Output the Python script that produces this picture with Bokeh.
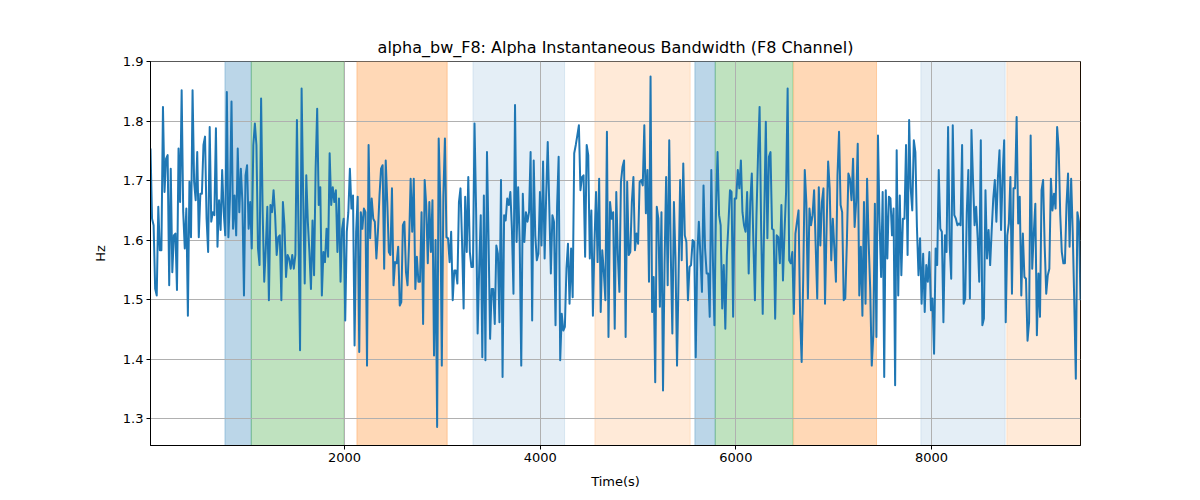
import numpy as np
from bokeh.plotting import figure
from bokeh.models import Range1d, FixedTicker, BoxAnnotation, ColumnDataSource
from bokeh.embed import file_html
from bokeh.resources import INLINE

TITLE = "alpha_bw_F8: Alpha Instantaneous Bandwidth (F8 Channel)"
X_LABEL = "Time(s)"
Y_LABEL = "Hz"
T_START = 16.0
T_END = 9523.0

SEG1 = [1.754,1.636,1.625,1.518,1.507,1.656,1.583,1.583,1.824,1.681,1.737,1.743,1.524,1.720,1.546,1.608,1.611,1.516,1.754,1.664,
        1.852,1.647,1.586,1.653,1.473,1.698,1.605,1.852,1.698,1.667,1.748,1.605,1.678,1.678,1.760,1.774,1.636,1.580,1.790,1.631,
        1.647,1.642,1.788,1.589,1.667,1.617,1.718,1.647,1.608,1.849,1.605,1.670,1.833,1.619,1.675,1.608,1.754,1.647,1.720,1.664,
        1.507,1.709,1.726,1.619,1.664,1.586,1.760,1.796,1.760,1.586,1.558,1.838,1.647,1.530,1.586,1.656,1.499,1.659,1.647,1.684,
        1.642,1.575,1.605,1.608,1.499,1.664,1.625,1.538,1.575,1.569,1.552,1.575,1.552,1.575]
SEG2 = [1.802,1.614,1.415,1.855,1.675,1.527,1.709,1.631,1.580,1.518,
        1.633,1.541,1.720,1.821,1.659,1.689,1.507,1.580,1.563,1.619,
        1.572,1.746,1.659,1.689,1.664,1.684,1.580,1.670,1.530,1.619,
        1.636,1.465,1.614,1.647,1.720,1.653,1.675,1.423,1.614,1.673,
        1.412,1.647,1.619,1.653,1.647,1.389,1.760,1.603,1.670,1.636,
        1.631,1.569,1.614,1.675,1.720,1.726,1.552,1.734,1.664,1.580,
        1.575,1.687,1.524,1.563,1.561,1.589,1.490,1.496,1.625,1.631,
        1.546,1.524,1.597,1.703,1.614,1.703,1.518,1.572,1.530,1.530,
        1.647,1.459,1.701,1.659,1.561,1.664,1.580,1.667,1.406,1.600,
        1.286,1.771,1.670,1.389,1.675,1.771,1.605,1.603]
SEG3 = [1.563,1.614,1.499,1.549,1.549,1.527,1.664,1.687,1.597,1.485,
        1.673,1.580,1.706,1.580,1.555,1.555,1.796,1.653,1.443,1.552,
        1.642,1.403,1.675,1.398,1.748,1.603,1.434,1.518,1.518,1.459,
        1.591,1.577,1.462,1.701,1.370,1.642,1.633,1.670,1.659,1.681,
        1.619,1.510,1.827,1.597,1.689,1.597,1.389,1.678,1.597,1.647,
        1.631,1.647,1.748,1.465,1.734,1.608,1.566,1.577,1.681,1.591,
        1.732,1.569,1.675,1.765,1.656,1.544,1.642,1.631,1.457,1.656,
        1.740,1.398,1.476,1.448,1.454,1.552,1.594,1.493,1.586,1.504,
        1.746,1.760,1.776,1.793,1.684,1.706,1.709,1.572,1.760,1.743,
        1.569,1.650,1.473,1.597,1.681,1.563,1.703,1.479,1.583]
SEG4 = [1.546,1.499,1.782,1.437,1.664,1.636,1.647,1.451,1.681,1.575,
        1.513,1.698,1.723,1.734,1.437,1.698,1.575,1.580,1.664,1.706,
        1.583,1.611,1.594,1.698,1.701,1.692,1.793,1.645,1.718,1.530,
        1.875,1.479,1.538,1.361,1.656,1.636,1.488,1.647,1.347,1.561,
        1.706,1.524,1.768,1.575,1.443,1.664,1.569,1.389,1.541,1.701,
        1.566,1.729,1.608,1.597,1.499,1.555,1.558,1.600,1.597,1.403,
        1.575,1.631,1.575,1.513,1.692,1.586,1.544,1.544,1.471,1.718,
        1.569,1.457,1.653,1.748,1.642,1.625,1.485,1.558,1.451,1.575,
        1.628,1.684,1.681,1.471,1.670,1.670,1.718,1.687,1.734,1.647,
        1.625,1.614,1.681,1.544,1.664,1.712,1.597,1.499,1.642,1.743,
        1.824,1.619]
SEG5 = [1.476,1.642,1.799,1.603,1.740,1.748,1.619,1.617,1.468,1.608,
        1.605,1.561,1.659,1.532,1.614,1.681,1.855,1.566,1.561,1.580,
        1.476,1.611,1.631,1.650,1.473,1.395,1.535,1.718,1.664,1.502,
        1.653,1.625,1.642,1.684,1.591,1.502,1.689,1.591,1.664,1.687,
        1.493,1.619,1.732,1.687,1.566,1.636,1.586,1.530,1.709,1.782,
        1.659,1.647,1.499,1.502,1.594,1.712,1.703,1.667,1.737,1.622,
        1.664,1.762,1.507,1.589,1.473,1.664,1.493,1.703,1.597,1.518,
        1.389,1.440,1.661,1.437,1.776,1.631,1.538,1.681,1.370,1.684,
        1.569,1.673,1.670,1.608,1.653,1.356,1.751,1.507,1.675,1.541,
        1.636,1.636,1.760,1.575,1.802,1.687,1.650,1.768,1.748,1.622,
        1.541]
SEG6 = [1.603,1.493,1.577,1.479,1.558,1.530,1.580,1.482,1.502,1.409,
        1.586,1.558,1.718,1.619,1.614,1.462,1.608,1.580,1.790,1.594,
        1.535,1.793,1.642,1.636,1.625,1.628,1.625,1.760,1.493,1.502,
        1.647,1.718,1.502,1.785,1.701,1.625,1.656,1.603,1.530,1.768,
        1.457,1.468,1.684,1.569,1.617,1.558,1.617,1.670,1.701,1.631,
        1.706,1.751,1.617,1.709,1.768,1.462,1.608,1.628,1.706,1.510,
        1.687,1.687,1.807,1.628,1.673,1.507,1.611,1.538,1.535,1.431,
        1.462,1.776,1.552,1.611,1.661,1.440,1.544,1.471,1.684,1.701,
        1.591,1.510,1.541,1.552,1.703,1.650,1.678,1.653,1.790,1.754,
        1.642,1.580,1.561,1.561,1.659,1.712,1.589,1.703,1.614,1.496,
        1.367,1.647,1.631,1.499]

SPAN_START = [777, 1046, 2126, 3312, 4559, 5581, 5789, 6590, 7891, 8770]
SPAN_END   = [1046, 1995, 3049, 4249, 5533, 5789, 6583, 7438, 8753, 9530]
SPAN_COLOR = ["#1f77b4", "#2ca02c", "#ff7f0e", "#1f77b4", "#ff7f0e",
              "#1f77b4", "#2ca02c", "#ff7f0e", "#1f77b4", "#ff7f0e"]
SPAN_ALPHA = [0.3, 0.3, 0.3, 0.12, 0.16, 0.3, 0.3, 0.3, 0.12, 0.16]

X_TICKS = [2000, 4000, 6000, 8000]
Y_TICKS = [1.3, 1.4, 1.5, 1.6, 1.7, 1.8, 1.9]
X_RANGE = (16.0, 9523.0)
Y_RANGE = (1.2547, 1.9003)

values = SEG1 + SEG2 + SEG3 + SEG4 + SEG5 + SEG6
times = np.linspace(T_START, T_END, len(values))
src = ColumnDataSource(dict(t=times, v=values))

FONT = "DejaVu Sans"
W, H = 1192, 492
p = figure(width=W, height=H, output_backend="svg", toolbar_location=None,
           x_range=Range1d(*X_RANGE), y_range=Range1d(*Y_RANGE),
           min_border_left=150, min_border_right=112, min_border_top=61, min_border_bottom=47)
p.background_fill_color = "white"
p.border_fill_color = "white"
p.outline_line_color = "black"
p.outline_line_width = 1
p.outline_line_alpha = 1

for s, e, c, a in zip(SPAN_START, SPAN_END, SPAN_COLOR, SPAN_ALPHA):
    p.add_layout(BoxAnnotation(left=s, right=e, fill_color=c, fill_alpha=a,
                               line_color=c, line_alpha=a, line_width=1, level="image"))

p.line("t", "v", source=src, line_color="#1f77b4", line_width=2, line_join="round")

p.title.text = TITLE
p.title.text_font = FONT
p.title.text_font_size = "16px"
p.title.text_font_style = "normal"
p.title.align = "center"
p.title.text_color = "black"

for ax in (p.xaxis[0], p.yaxis[0]):
    ax.major_label_text_font = FONT
    ax.major_label_text_font_size = "13px"
    ax.major_label_text_color = "black"
    ax.axis_label_text_font = FONT
    ax.axis_label_text_font_size = "13px"
    ax.axis_label_text_font_style = "normal"
    ax.axis_label_text_color = "black"
    ax.major_tick_out = 4
    ax.major_tick_in = 0
    ax.minor_tick_out = 0
    ax.minor_tick_in = 0
    ax.axis_line_color = "black"
    ax.major_tick_line_color = "black"

p.xaxis.axis_label = X_LABEL
p.yaxis.axis_label = Y_LABEL
p.xaxis.ticker = FixedTicker(ticks=X_TICKS)
p.yaxis.ticker = FixedTicker(ticks=Y_TICKS)
p.xaxis.major_label_standoff = 3
p.yaxis.major_label_standoff = 3
p.xaxis.axis_label_standoff = 9
p.yaxis.axis_label_standoff = 12
p.yaxis.major_label_orientation = "horizontal"

for g in (p.xgrid[0], p.ygrid[0]):
    g.grid_line_color = "#b0b0b0"
    g.grid_line_width = 1

with open("out.html", "w") as f:
    f.write(file_html(p, INLINE))
